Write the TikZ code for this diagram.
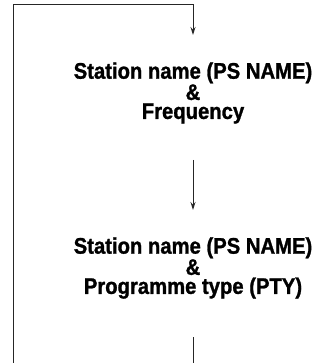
\documentclass[tikz,border=0pt]{standalone}
\usepackage{fontspec}
\setmainfont[FakeStretch=0.9,BoldFeatures={FakeBold=1.2}]{Liberation Sans}
\usetikzlibrary{arrows.meta}
\tikzset{
  conn/.style={line width=1pt, draw=black!85},
  arr/.style={conn, -{Stealth[length=8pt,width=5pt]}},
  label/.style={align=center, font=\fontsize{22.5}{19}\selectfont\bfseries, inner sep=0pt}
}
\begin{document}
\begin{tikzpicture}[x=1pt,y=-1pt]
\useasboundingbox (0,0) rectangle (322,363);
\node[label] (t1) at (193,93) {Station name (PS NAME)\\\&\\Frequency};
\node[label] (t2) at (193,268) {Station name (PS NAME)\\\&\\Programme type (PTY)};
\coordinate (bl) at (13,363);
\coordinate (tl) at (13,5);
\coordinate (tr) at (193,5);
\coordinate (a1) at (193,35);
\coordinate (s2) at (193,160);
\coordinate (e2) at (193,210);
\coordinate (s3) at (193,337);
\coordinate (e3) at (193,363);
\draw[arr] (bl) -- (tl) -- (tr) -- (a1);
\draw[arr] (s2) -- (e2);
\draw[conn] (s3) -- (e3);
\end{tikzpicture}
\end{document}
